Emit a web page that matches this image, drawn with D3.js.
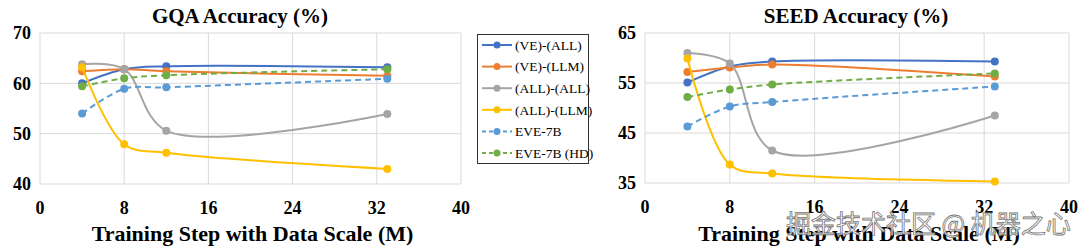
<!DOCTYPE html>
<html>
<head>
<meta charset="utf-8">
<script src="https://cdn.jsdelivr.net/npm/d3@7"></script>
<style>
  body { margin: 0; background: #fff; }
  text { font-family: "Liberation Serif", "DejaVu Serif", serif; }
</style>
</head>
<body>
<script>
// x positions (M samples)
var steps = [4, 8, 12, 33];
var seriesNames = ["(VE)-(ALL)", "(VE)-(LLM)", "(ALL)-(ALL)", "(ALL)-(LLM)", "EVE-7B", "EVE-7B (HD)"];
var colors = ["#4472C4", "#ED7D31", "#A5A5A5", "#FFC000", "#5B9BD5", "#70AD47"];
var dashed = [false, false, false, false, true, true];

// GQA accuracy
var gqaVeAll = [60.0, 62.8, 63.4, 63.2];
var gqaVeLlm = [62.4, 62.8, 62.4, 61.5];
var gqaAllAll = [63.8, 62.8, 50.6, 53.9];
var gqaAllLlm = [63.2, 47.9, 46.2, 43.0];
var gqaEve = [54.0, 58.9, 59.2, 60.9];
var gqaEveHd = [59.4, 61.0, 61.6, 62.8];

// SEED accuracy
var seedVeAll = [55.1, 58.3, 59.3, 59.3];
var seedVeLlm = [57.2, 58.1, 58.7, 56.3];
var seedAllAll = [61.0, 58.9, 41.5, 48.5];
var seedAllLlm = [59.9, 38.7, 36.9, 35.3];
var seedEve = [46.3, 50.3, 51.2, 54.3];
var seedEveHd = [52.2, 53.7, 54.7, 56.9];

var xTicks = [0, 8, 16, 24, 32, 40];
var gqaTicks = [40, 50, 60, 70];
var seedTicks = [35, 45, 55, 65];

var svg = d3.select("body").append("svg")
    .attr("width", 1080)
    .attr("height", 247);

function drawChart(opt) {
  var x = d3.scaleLinear().domain([0, 40]).range([opt.left, opt.right]);
  var y = d3.scaleLinear().domain(opt.yDomain).range([opt.bottom, opt.top]);
  var g = svg.append("g");

  // grid
  g.selectAll(".vgrid").data(xTicks).enter().append("line")
    .attr("x1", function(d) { return x(d); }).attr("x2", function(d) { return x(d); })
    .attr("y1", opt.top).attr("y2", opt.bottom)
    .attr("stroke", "#d9d9d9").attr("stroke-width", 1);
  g.selectAll(".hgrid").data(opt.yTicks).enter().append("line")
    .attr("x1", opt.left).attr("x2", opt.right)
    .attr("y1", function(d) { return y(d); }).attr("y2", function(d) { return y(d); })
    .attr("stroke", "#d9d9d9").attr("stroke-width", 1);

  // tick labels
  g.selectAll(".ytl").data(opt.yTicks).enter().append("text")
    .attr("x", opt.left - 9).attr("y", function(d) { return y(d); })
    .attr("dy", "0.35em").attr("text-anchor", "end")
    .attr("font-size", 18).attr("font-weight", "bold")
    .text(function(d) { return d; });
  g.selectAll(".xtl").data(xTicks).enter().append("text")
    .attr("x", function(d) { return x(d); }).attr("y", opt.bottom + 30)
    .attr("text-anchor", "middle")
    .attr("font-size", 18).attr("font-weight", "bold")
    .text(function(d) { return d; });

  // titles
  g.append("text")
    .attr("x", opt.titleX).attr("y", 23)
    .attr("text-anchor", "middle").attr("font-size", 21).attr("font-weight", "bold")
    .text(opt.title);
  g.append("text")
    .attr("x", (opt.left + opt.right) / 2 + 2).attr("y", 241)
    .attr("text-anchor", "middle").attr("font-size", 22).attr("font-weight", "bold")
    .text("Training Step with Data Scale (M)");

  var line = d3.line()
    .x(function(d, i) { return x(steps[i]); })
    .y(function(d) { return y(d); })
    .curve(d3.curveCatmullRom.alpha(0.5));

  opt.series.forEach(function(vals, k) {
    g.append("path")
      .attr("d", line(vals))
      .attr("fill", "none")
      .attr("stroke", colors[k])
      .attr("stroke-width", 2)
      .attr("stroke-dasharray", dashed[k] ? "6,4" : null);
    g.selectAll(".pt" + k).data(vals).enter().append("circle")
      .attr("cx", function(d, i) { return x(steps[i]); })
      .attr("cy", function(d) { return y(d); })
      .attr("r", 4)
      .attr("fill", colors[k]);
  });
}

drawChart({
  left: 40, right: 461, top: 33, bottom: 184,
  yDomain: [40, 70], yTicks: gqaTicks, title: "GQA Accuracy (%)", titleX: 240,
  series: [gqaVeAll, gqaVeLlm, gqaAllAll, gqaAllLlm, gqaEve, gqaEveHd]
});
drawChart({
  left: 645, right: 1069, top: 33, bottom: 183,
  yDomain: [35, 65], yTicks: seedTicks, title: "SEED Accuracy (%)", titleX: 856,
  series: [seedVeAll, seedVeLlm, seedAllAll, seedAllLlm, seedEve, seedEveHd]
});

// legend
var legend = svg.append("g");
legend.append("rect")
  .attr("x", 477.5).attr("y", 34.5).attr("width", 111).attr("height", 129)
  .attr("fill", "#fff").attr("stroke", "#333").attr("stroke-width", 1);
seriesNames.forEach(function(name, k) {
  var ly = 45 + k * 21.6;
  legend.append("line")
    .attr("x1", 482).attr("x2", 512).attr("y1", ly).attr("y2", ly)
    .attr("stroke", colors[k]).attr("stroke-width", 2)
    .attr("stroke-dasharray", dashed[k] ? "4,3" : null);
  legend.append("circle").attr("cx", 497).attr("cy", ly).attr("r", 3.5).attr("fill", colors[k]);
  legend.append("text")
    .attr("x", 515).attr("y", ly).attr("dy", "0.35em")
    .attr("font-size", 13.5)
    .text(name);
});

// watermark
svg.append("text")
  .attr("x", 786).attr("y", 233)
  .style("font-family", "'Noto Sans CJK SC', sans-serif")
  .attr("font-size", 25)
  .attr("fill", "#ffffff").attr("fill-opacity", 0.85)
  .attr("stroke", "#777").attr("stroke-width", 0.8)
  .text("掘金技术社区 @ 机器之心");
</script>
</body>
</html>
